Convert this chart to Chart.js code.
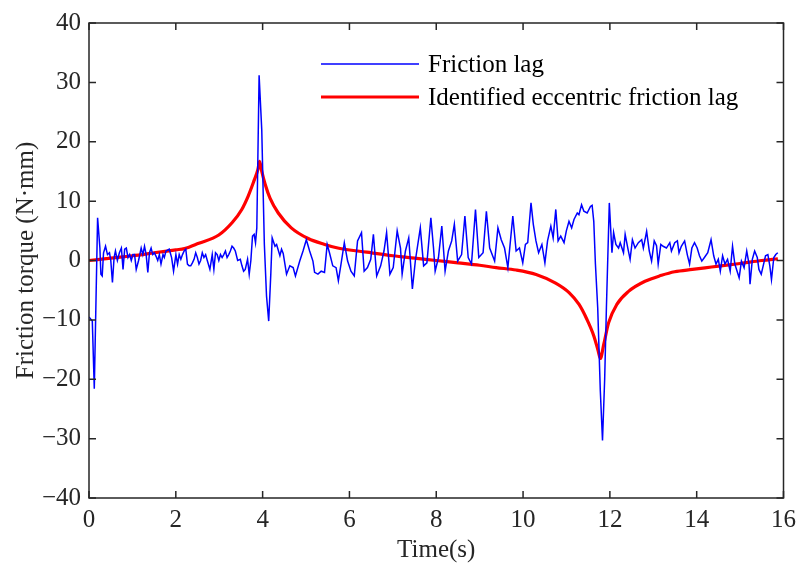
<!DOCTYPE html>
<html>
<head>
<meta charset="utf-8">
<script src="https://cdn.jsdelivr.net/npm/chart.js@4.4.0/dist/chart.umd.min.js"></script>
<style>
  html, body { margin: 0; padding: 0; background: #fff; }
  #wrap { width: 803px; height: 565px; }
</style>
</head>
<body>
<div id="wrap"><canvas id="grafico" width="803" height="565"></canvas></div>
<script>
// ============================
// DATA
// ============================
const blueLabel = 'Friction lag';
const redLabel = 'Identified eccentric friction lag';

// measured friction lag: time (s) and torque (N·mm)
const blueT = [
  0, 0.076, 0.122, 0.198, 0.251, 0.274, 0.304, 0.335, 0.381, 0.426, 0.472, 0.502, 0.540, 0.578, 0.609, 0.654,
  0.700, 0.746, 0.784, 0.822, 0.860, 0.898, 0.936, 0.974, 1.012, 1.050, 1.088, 1.142, 1.202, 1.240, 1.279, 1.317,
  1.355, 1.393, 1.431, 1.469, 1.507, 1.545, 1.583, 1.621, 1.659, 1.705, 1.735, 1.773, 1.849, 1.903, 1.948, 2.002,
  2.040, 2.078, 2.116, 2.154, 2.192, 2.230, 2.268, 2.306, 2.344, 2.382, 2.420, 2.458, 2.496, 2.534, 2.572, 2.610,
  2.648, 2.687, 2.725, 2.785, 2.839, 2.877, 2.915, 2.953, 2.991, 3.029, 3.067, 3.105, 3.143, 3.181, 3.219, 3.257,
  3.295, 3.333, 3.371, 3.425, 3.486, 3.524, 3.562, 3.600, 3.653, 3.691, 3.729, 3.767, 3.805, 3.836, 3.866, 3.919,
  3.980, 4.040, 4.090, 4.140, 4.190, 4.220, 4.285, 4.322, 4.398, 4.436, 4.474, 4.551, 4.627, 4.703, 4.756, 4.855,
  4.931, 5.007, 5.083, 5.159, 5.197, 5.274, 5.350, 5.426, 5.487, 5.540, 5.616, 5.692, 5.745, 5.806, 5.882, 5.958,
  6.035, 6.111, 6.187, 6.278, 6.339, 6.415, 6.491, 6.552, 6.628, 6.719, 6.796, 6.856, 6.933, 7.009, 7.100, 7.176,
  7.214, 7.290, 7.366, 7.450, 7.519, 7.633, 7.709, 7.785, 7.876, 7.937, 7.975, 8.051, 8.128, 8.204, 8.280, 8.356,
  8.417, 8.493, 8.584, 8.660, 8.736, 8.812, 8.904, 8.980, 9.079, 9.155, 9.231, 9.345, 9.421, 9.497, 9.573, 9.650,
  9.764, 9.840, 9.917, 9.993, 10.054, 10.107, 10.183, 10.236, 10.297, 10.358, 10.434, 10.503, 10.564, 10.640, 10.693, 10.754,
  10.807, 10.868, 10.944, 10.997, 11.058, 11.119, 11.173, 11.249, 11.287, 11.348, 11.401, 11.477, 11.553, 11.591, 11.629, 11.667,
  11.720, 11.780, 11.830, 11.880, 11.920, 11.987, 12.048, 12.086, 12.139, 12.200, 12.238, 12.314, 12.352, 12.413, 12.466, 12.519,
  12.580, 12.656, 12.733, 12.771, 12.847, 12.908, 12.961, 13.022, 13.075, 13.113, 13.174, 13.227, 13.303, 13.380, 13.418, 13.494,
  13.555, 13.593, 13.646, 13.722, 13.783, 13.836, 13.889, 13.950, 14.011, 14.064, 14.118, 14.178, 14.255, 14.331, 14.392, 14.445,
  14.498, 14.544, 14.597, 14.651, 14.711, 14.772, 14.826, 14.879, 14.978, 15.031, 15.092, 15.153, 15.206, 15.229, 15.282, 15.335,
  15.396, 15.434, 15.487, 15.548, 15.586, 15.640, 15.685, 15.723, 15.777, 15.822, 15.868
];
const blueV = [
  -9.5, -10.2, -21.6, 7.2, 2.1, -2.3, -2.6, 1.3, 2.4, 1.0, 1.3, 0, -3.7, 0.5, 1.6, 0,
  1.3, 2.1, -1.5, 1.9, 2.1, 0.5, 1.0, 0, 1.0, 1.0, -1.5, 0, 2.1, 1.0, 2.4, 1.0,
  -2.0, 1.3, 2.1, 1.0, 1.3, 0.7, 0, 1.0, -0.6, 1.0, 0.5, 1.6, 1.9, 0.5, -1.8, 1.0,
  -0.6, 1.0, 0.2, 1.0, 1.6, 1.9, -0.6, -0.9, -0.9, -0.4, 0.2, 1.3, 0.5, -0.6, 0, 1.3,
  0.5, 1.0, 0, -1.5, 1.0, -1.5, 1.3, 1.0, 0, 1.0, 0.5, 1.0, 1.6, 0.5, 1.0, 1.6,
  2.4, 2.1, 1.6, 0, 0.2, -0.9, -1.8, -1.5, 0.2, -2.3, 0, 4.1, 4.4, 3.0, 5.5, 31.2,
  22.0, 2.7, -6.0, -10.2, -2.0, 3.8, 2.4, 2.7, 0.8, 1.9, 1.2, -2.3, -0.9, -1.2, -2.6, -0.1,
  1.6, 3.5, 1.6, -0.1, -2.0, -2.3, -1.8, -2.0, 2.7, 1.3, -0.9, -1.2, -3.4, -0.6, 3.0, -0.1,
  -1.8, -2.6, 3.3, 4.7, -1.8, -1.2, 0.2, 4.4, -2.6, -0.9, 1.6, 4.7, -2.3, -1.2, 5.0, 2.1,
  -2.3, 1.6, 3.8, -4.8, 0, 5.5, -0.9, -0.4, 7.2, 2.1, -1.8, 0.5, 5.8, -1.8, 1.6, 3.3,
  6.1, -0.1, 1.0, 7.5, 0.5, -0.6, 8.6, 0.5, 1.3, 8.3, 2.1, -0.1, 5.5, 3.5, 2.1, -1.2,
  7.5, 1.6, 2.1, -0.4, 2.7, 3.0, 9.7, 6.1, 3.3, 1.3, 2.7, -0.4, 3.3, 5.8, 3.8, 8.6,
  3.3, 4.1, 3.0, 5.0, 6.6, 5.5, 6.9, 8.0, 7.7, 9.4, 8.3, 8.0, 9.1, 9.3, 6.6, -0.6,
  -8.0, -22.0, -30.3, -20.0, -8.0, 9.7, 1.3, 4.7, 2.7, 2.1, 3.0, 1.3, 4.4, 2.1, 0.2, 3.5,
  2.1, 3.0, 3.5, 2.1, 4.9, 1.6, -0.1, 3.3, 2.5, -0.6, 2.7, 2.4, 2.1, 3.0, 1.6, 3.0,
  3.3, 1.3, 2.4, 3.3, 1.0, -0.6, 2.1, 3.0, 2.1, 0.8, -0.1, 0.5, 1.3, 3.5, 0.8, -0.6,
  0.2, -1.8, 0.8, -0.6, 0.2, -1.8, 2.4, -0.6, -2.9, -0.1, -1.2, 1.6, -0.6, -4.0, 0.2, 1.6,
  0.5, -1.5, -2.3, -0.4, 0.8, 1.0, -0.9, -3.2, 0.5, 1.0, 1.3
];

// identified eccentric friction lag
const redT = [
  0, 0.5, 1, 1.5, 2, 2.2, 2.53, 2.99, 3.3, 3.52, 3.67, 3.79, 3.89, 3.93, 3.98, 4.06,
  4.17, 4.36, 4.66, 5.05, 5.43, 5.73, 6.4, 7, 7.5, 8, 8.5, 9, 9.38, 9.84, 10.3, 10.75,
  11.06, 11.29, 11.47, 11.63, 11.73, 11.78, 11.86, 11.97, 12.16, 12.43, 12.81, 13.19, 13.49, 13.9,
  14.34, 15, 15.5, 15.87
];
const redV = [
  0, 0.4, 0.8, 1.3, 1.8, 2.0, 2.9, 4.3, 6.4, 8.6, 10.9, 13.2, 15.3, 16.7, 15.0, 12.8,
  10.5, 8.0, 5.5, 3.7, 2.7, 2.1, 1.4, 0.8, 0.4, 0, -0.4, -0.8, -1.2, -1.6, -2.35, -3.8,
  -5.4, -7.4, -9.9, -12.7, -15.2, -16.5, -14.1, -10.5, -7.4, -5.2, -3.5, -2.5, -1.9, -1.5,
  -1.1, -0.5, 0, 0.3
];

// axes
const xMin = 0, xMax = 16, xStep = 2;
const yMin = -40, yMax = 40, yStep = 10;
const xTitle = 'Time(s)';
const yTitle = 'Friction torque (N\u00b7mm)';

// ============================
// HELPERS
// ============================
const fonte = 'Liberation Serif, Times New Roman, serif';
const tam = 25;
const corEixo = '#262626';
const menos = v => String(v).replace('-', '\u2212');

function pares(ts, vs) {
  return ts.map((t, i) => ({ x: t, y: vs[i] }));
}

// box + inward ticks + legend, matlab style
const caixa = {
  id: 'caixa',
  afterDraw(chart) {
    const ctx = chart.ctx;
    const a = chart.chartArea;
    const xs = chart.scales.x, ys = chart.scales.y;
    const tl = 7;
    ctx.save();
    ctx.strokeStyle = corEixo;
    ctx.lineWidth = 1.5;
    ctx.beginPath();
    xs.ticks.forEach(tk => {
      const px = xs.getPixelForValue(tk.value);
      ctx.moveTo(px, a.bottom); ctx.lineTo(px, a.bottom - tl);
      ctx.moveTo(px, a.top); ctx.lineTo(px, a.top + tl);
    });
    ys.ticks.forEach(tk => {
      const py = ys.getPixelForValue(tk.value);
      ctx.moveTo(a.left, py); ctx.lineTo(a.left + tl, py);
      ctx.moveTo(a.right, py); ctx.lineTo(a.right - tl, py);
    });
    ctx.stroke();
    ctx.strokeRect(a.left, a.top, a.right - a.left, a.bottom - a.top);

    // legend
    const lx = 321, lw = 98, ly = [64, 97];
    ctx.font = tam + 'px ' + fonte;
    ctx.textBaseline = 'middle';
    ctx.textAlign = 'left';
    chart.data.datasets.forEach((ds, i) => {
      ctx.strokeStyle = ds.borderColor;
      ctx.lineWidth = ds.borderWidth;
      ctx.beginPath();
      ctx.moveTo(lx, ly[i]); ctx.lineTo(lx + lw, ly[i]);
      ctx.stroke();
      ctx.fillStyle = '#000';
      ctx.fillText(ds.label, lx + lw + 9, ly[i] + 1);
    });
    ctx.restore();
  }
};

// ============================
// GRAFICO
// ============================
const graf = new Chart(document.getElementById('grafico'), {
  type: 'line',
  data: {
    datasets: [
      { label: blueLabel, data: pares(blueT, blueV), borderColor: '#0000FF', borderWidth: 1.5, pointRadius: 0, tension: 0, fill: false },
      { label: redLabel, data: pares(redT, redV), borderColor: '#FF0000', borderWidth: 3.2, pointRadius: 0, cubicInterpolationMode: 'monotone', fill: false, borderJoinStyle: 'round' }
    ]
  },
  options: {
    responsive: false,
    animation: false,
    events: [],
    layout: { padding: { left: 0, right: 13, top: 21, bottom: 0 } },
    plugins: { legend: { display: false }, tooltip: { enabled: false } },
    scales: {
      x: {
        type: 'linear', min: xMin, max: xMax,
        grid: { display: false, drawTicks: false },
        border: { display: false },
        ticks: { stepSize: xStep, padding: 7, color: corEixo, font: { family: fonte, size: tam }, maxRotation: 0, callback: menos },
        title: { display: true, text: xTitle, color: corEixo, font: { family: fonte, size: tam }, padding: { top: 0, bottom: 0 } },
        afterFit: s => { s.height = 67; }
      },
      y: {
        type: 'linear', min: yMin, max: yMax,
        grid: { display: false, drawTicks: false },
        border: { display: false },
        ticks: { stepSize: yStep, padding: 8, color: corEixo, font: { family: fonte, size: tam }, callback: menos },
        title: { display: true, text: yTitle, color: corEixo, font: { family: fonte, size: tam }, padding: { top: 11, bottom: 0 } },
        afterFit: s => { s.width = 89; }
      }
    }
  },
  plugins: [caixa]
});
</script>
</body>
</html>
